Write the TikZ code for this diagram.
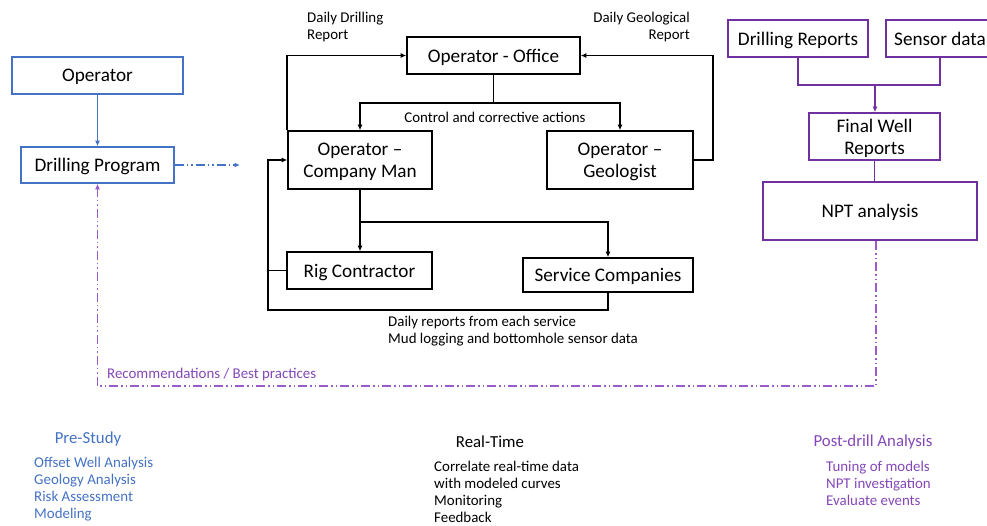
\documentclass[tikz,border=0pt]{standalone}
\usepackage{fontspec}
\setmainfont{Carlito}
\usetikzlibrary{arrows.meta}
\definecolor{opblue}{HTML}{4472C4}
\definecolor{oppurple}{HTML}{7030A0}
\definecolor{dashpurple}{HTML}{9A5CCB}
\definecolor{txtpurple}{HTML}{8447B8}
\begin{document}
\begin{tikzpicture}[x=1pt,y=-1pt,
  boxtext/.style={font=\fontsize{19.2}{22}\selectfont, align=center, inner sep=0pt, text depth=0pt},
  blackbox/.style={boxtext, draw=black, line width=1.6pt},
  bluebox/.style={boxtext, draw=opblue, line width=1.6pt},
  purplebox/.style={boxtext, draw=oppurple, line width=1.6pt},
  label/.style={font=\fontsize{14.9}{17}\selectfont, inner sep=0pt},
  heading/.style={font=\fontsize{16.8}{20}\selectfont, inner sep=0pt},
  tip/.style={-{Latex[length=5.5pt,width=5pt]}},
  link/.style={line width=1.6pt},
  ddot/.style={dash pattern=on 9pt off 3pt on 1.5pt off 3pt on 1.5pt off 3pt},
]
\useasboundingbox (0,0) rectangle (987,525);
\clip (0,0) rectangle (987,525);

% ---- pre-study side ----
\node[bluebox, minimum width=171, minimum height=37] (op) at (97.5,75.5) {Operator};
\node[bluebox, minimum width=153, minimum height=36] (dp) at (97.5,165) {Drilling Program};
\draw[link, opblue, tip] (op) -- (dp);
\coordinate (dpend) at (240,165);
\draw[line width=1.3pt, opblue, ddot, tip] (dp.east) -- (dpend);

% ---- real-time organisation ----
\node[blackbox, minimum width=173, minimum height=37] (office) at (493.5,55.5) {Operator - Office};
\node[blackbox, minimum width=144, minimum height=58] (cm) at (360,160) {Operator --\\Company Man};
\node[blackbox, minimum width=146, minimum height=58] (geo) at (620,160) {Operator --\\Geologist};
\node[blackbox, minimum width=145, minimum height=37] (rig) at (359.5,270.5) {Rig Contractor};
\node[blackbox, minimum width=170, minimum height=34] (svc) at (608,275) {Service Companies};

\coordinate (ctrl) at (493.5,103);
\draw[link] (office) -- (ctrl);
\draw[link, tip] (ctrl) -| (cm.north);
\draw[link, tip] (ctrl) -| (geo.north);
\node[label] (ctrltxt) at (495,117) {Control and corrective actions};

\draw[link, tip] (cm.north west) |- (office.west);
\draw[link, tip] (geo.east) -- ++(19,0) |- (office.east);
\node[label, anchor=north west, align=left] (ddr) at (307,12) {Daily Drilling\\Report};
\node[label, anchor=north east, align=right] (dgr) at (690,12) {Daily Geological\\Report};

\coordinate (br) at (360,222);
\draw[link, tip] (cm.south) -- (cm.south |- rig.north);
\draw[link, tip] (br) -| (svc.north);

\coordinate (loop) at (268,310);
\draw[link, tip] (svc.south) |- (loop) |- (cm.west);
\draw[link] (rig.west) -- (rig.west -| loop);
\node[label, anchor=north west, align=left] (daily) at (388,316)
  {Daily reports from each service\\Mud logging and bottomhole sensor data};

% ---- post-drill side ----
\node[purplebox, minimum width=140, minimum height=37] (drep) at (798,38.5) {Drilling Reports};
\node[purplebox, minimum width=108, minimum height=37] (sens) at (940,38.5) {Sensor data};
\node[purplebox, minimum width=131, minimum height=47] (fwr) at (874.5,136.5) {Final Well\\Reports};
\node[purplebox, line width=2.2pt, minimum width=214, minimum height=58] (npt) at (870,211) {NPT analysis};

\coordinate (merge) at (875,85);
\draw[link, oppurple] (drep.south) |- (merge) -| (sens.south);
\draw[link, oppurple, tip] (merge) -- (merge |- fwr.north);
\draw[link, oppurple] (fwr.south) -- (fwr.south |- npt.north);

\coordinate (nptout) at (876,241);
\coordinate (rb) at (876,386);
\draw[line width=1.8pt, dashpurple, ddot, tip] (nptout) -- (rb) -| (dp.south);
\node[label, text=txtpurple, anchor=west] (rec) at (107,375) {Recommendations / Best practices};

% ---- phase captions ----
\node[heading, text=opblue] (pre) at (88,439) {Pre-Study};
\node[label, text=opblue, anchor=north west, align=left] (prelist) at (34,457)
  {Offset Well Analysis\\Geology Analysis\\Risk Assessment\\Modeling};

\node[heading] (rt) at (490,442) {Real-Time};
\node[label, anchor=north west, align=left] (rtlist) at (434,461)
  {Correlate real-time data\\with modeled curves\\Monitoring\\Feedback};

\node[heading, text=txtpurple] (post) at (873,442) {Post-drill Analysis};
\node[label, text=txtpurple, anchor=north west, align=left] (postlist) at (826,461)
  {Tuning of models\\NPT investigation\\Evaluate events};
\end{tikzpicture}
\end{document}
